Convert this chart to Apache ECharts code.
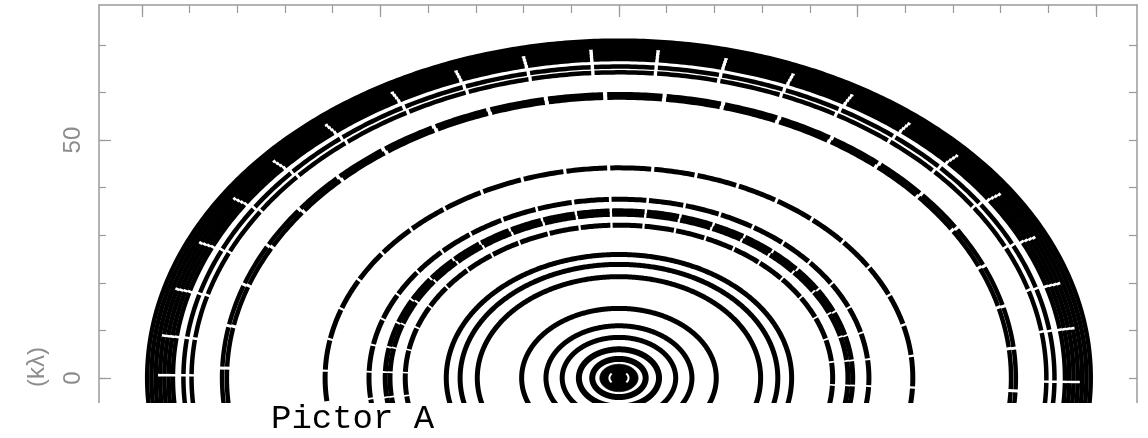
<!DOCTYPE html>
<html>
<head>
<meta charset="utf-8">
<script src="https://cdn.jsdelivr.net/npm/echarts@6/dist/echarts.min.js"></script>
<style>
  html, body { margin: 0; padding: 0; background: #fff; }
  #chart { width: 1148px; height: 438px; }
</style>
</head>
<body>
<div id="chart"></div>
<script>
// ---- data (uv tracks of Pictor A, radii in kλ, hour angles in degrees) ----
const axisRatio = 0.717;                // v/u semi-axis ratio of the elliptical tracks
const xMinorTicks = [-100, -90, -80, -70, -60, -50, -40, -30, -20, -10, 0, 10, 20, 30, 40, 50, 60, 70, 80, 90, 100];
const xMajorTicks = [-100, -50, 0, 50, 100];
const yMinorTicks = [0, 10, 20, 30, 40, 50, 60, 70];
const yMajorTicks = [0, 50];
const yTickLabels = [0, 50];

const outerBandSolid = [97.1, 98.0, 98.9];
const outerBandGapped = [93.5, 94.4, 95.3, 96.2, 89.6, 91.3];
const ring82 = [82.2, 83.2];
const midTracks = [61.6, 52.4, 49.0, 48.0, 44.8];
const innerTracks = [36.2, 33.3, 29.7, 20.4, 15.3, 11.9];
const coreRings = [8.4, 5.6];
const coreFill = [4.0];
const coreArcs = [2.0];

const outerGapAngles = [-98.0, -89.5, -82.6, -74.3, -65.7, -56.9, -48.7, -39.6, -29.6, -20.8, -12.0, -3.5,
                        4.9, 13.5, 22.3, 30.5, 39.2, 47.4, 56.0, 64.7, 73.3, 81.3, 90.7, 99.3];
const innerGapAngles = [-96.6, -88.0, -79.4, -70.8, -62.2, -53.6, -45.0, -36.4, -27.8, -19.2, -10.6, -2.0,
                        6.6, 15.2, 23.8, 32.4, 41.0, 49.6, 58.2, 66.8, 75.4, 84.0, 92.6];
const coreArcSpans = [[50, 130], [-130, -50]];

// ---- drawing helpers ----
function ellipsePoints(api, a, h0, h1) {
  const pts = [];
  const n = Math.max(2, Math.ceil(Math.abs(h1 - h0) / 0.5));
  for (let i = 0; i <= n; i++) {
    const h = (h0 + (h1 - h0) * i / n) * Math.PI / 180;
    pts.push(api.coord([a * Math.sin(h), a * axisRatio * Math.cos(h)]));
  }
  return pts;
}
function spansFromGaps(gaps, gapW) {
  const edges = [-180];
  gaps.slice().sort((p, q) => p - q).forEach(g => { edges.push(g - gapW / 2); edges.push(g + gapW / 2); });
  edges.push(180);
  const spans = [];
  for (let i = 0; i < edges.length; i += 2) spans.push([edges[i], edges[i + 1]]);
  return spans;
}
function trackRenderer(lineWidth, spans, color) {
  return function (params, api) {
    const a = api.value(0);
    return {
      type: 'group',
      children: spans.map(s => ({
        type: 'polyline',
        shape: { points: ellipsePoints(api, a, s[0], s[1]) },
        style: { stroke: color, lineWidth: lineWidth, fill: null, lineCap: 'butt', lineJoin: 'round' }
      }))
    };
  };
}
function fillRenderer(color) {
  return function (params, api) {
    const a = api.value(0);
    return {
      type: 'polygon',
      shape: { points: ellipsePoints(api, a, -180, 180) },
      style: { fill: color, stroke: color, lineWidth: 1 }
    };
  };
}
function trackSeries(radii, renderer, z) {
  return {
    type: 'custom', coordinateSystem: 'cartesian2d', xAxisIndex: 0, yAxisIndex: 0,
    data: radii.map(r => [r]), renderItem: renderer, clip: true, silent: true, z: z,
    animation: false
  };
}

const fullSpan = [[-180, 180]];
const gray = '#9a9a9a';
const labelGray = '#8c8c8c';
const X_MIN = -109.0, X_MAX = 108.6, Y_MIN = -5.26, Y_MAX = 78.4;

const chart = echarts.init(document.getElementById('chart'), null, { renderer: 'canvas' });
chart.setOption({
  animation: false,
  backgroundColor: '#fff',
  grid: { left: 99, right: 11, top: 5, bottom: 35, containLabel: false },
  xAxis: [
    { type: 'value', position: 'top', min: X_MIN, max: X_MAX,
      axisLine: { show: true, onZero: false, lineStyle: { color: gray, width: 1.5 } },
      axisTick: { show: true, inside: true, length: 8, customValues: xMinorTicks, lineStyle: { color: gray, width: 1.2 } },
      axisLabel: { show: false }, splitLine: { show: false } },
    { type: 'value', position: 'top', min: X_MIN, max: X_MAX,
      axisLine: { show: false, onZero: false },
      axisTick: { show: true, inside: true, length: 12, customValues: xMajorTicks, lineStyle: { color: gray, width: 1.2 } },
      axisLabel: { show: false }, splitLine: { show: false } }
  ],
  yAxis: [
    { type: 'value', position: 'left', min: Y_MIN, max: Y_MAX,
      axisLine: { show: true, onZero: false, lineStyle: { color: gray, width: 1.5 } },
      axisTick: { show: true, inside: true, length: 7, customValues: yMinorTicks, lineStyle: { color: gray, width: 1.2 } },
      axisLabel: { show: true, customValues: yTickLabels, rotate: 90, margin: 14, color: labelGray,
                   fontSize: 24, fontFamily: 'Liberation Sans, Arial, sans-serif' },
      splitLine: { show: false } },
    { type: 'value', position: 'left', min: Y_MIN, max: Y_MAX,
      axisLine: { show: false, onZero: false },
      axisTick: { show: true, inside: true, length: 12, customValues: yMajorTicks, lineStyle: { color: gray, width: 1.2 } },
      axisLabel: { show: false }, splitLine: { show: false } },
    { type: 'value', position: 'right', min: Y_MIN, max: Y_MAX,
      axisLine: { show: true, onZero: false, lineStyle: { color: gray, width: 1.5 } },
      axisTick: { show: true, inside: true, length: 8, customValues: yMinorTicks, lineStyle: { color: gray, width: 1.2 } },
      axisLabel: { show: false }, splitLine: { show: false } }
  ],
  series: [
    trackSeries(outerBandSolid, trackRenderer(4.5, fullSpan, '#000'), 2),
    trackSeries(outerBandGapped, trackRenderer(4.5, spansFromGaps(outerGapAngles, 0.45), '#000'), 2),
    trackSeries(ring82, trackRenderer(4.5, spansFromGaps(innerGapAngles, 0.6), '#000'), 2),
    trackSeries(midTracks, trackRenderer(5, spansFromGaps(innerGapAngles, 0.6), '#000'), 2),
    trackSeries(innerTracks, trackRenderer(5, fullSpan, '#000'), 2),
    trackSeries(coreRings, trackRenderer(6, fullSpan, '#000'), 2),
    trackSeries(coreFill, fillRenderer('#000'), 3),
    trackSeries(coreArcs, trackRenderer(2, coreArcSpans, '#fff'), 4)
  ],
  graphic: [
    { type: 'rect', left: 0, top: 403, shape: { width: 1148, height: 35 }, style: { fill: '#fff' }, z: 100 },
    { type: 'text', x: 37, y: 367, rotation: Math.PI / 2, z: 101,
      style: { text: '(kλ)', fontSize: 24, fill: labelGray, fontFamily: 'Liberation Sans, Arial, sans-serif',
               align: 'center', verticalAlign: 'middle' } },
    { type: 'text', x: 271, y: 419, z: 101,
      style: { text: 'Pictor A', fontSize: 34, fill: '#000', fontFamily: 'Liberation Mono, Courier New, monospace',
               align: 'left', verticalAlign: 'middle' } }
  ]
});
</script>
</body>
</html>
